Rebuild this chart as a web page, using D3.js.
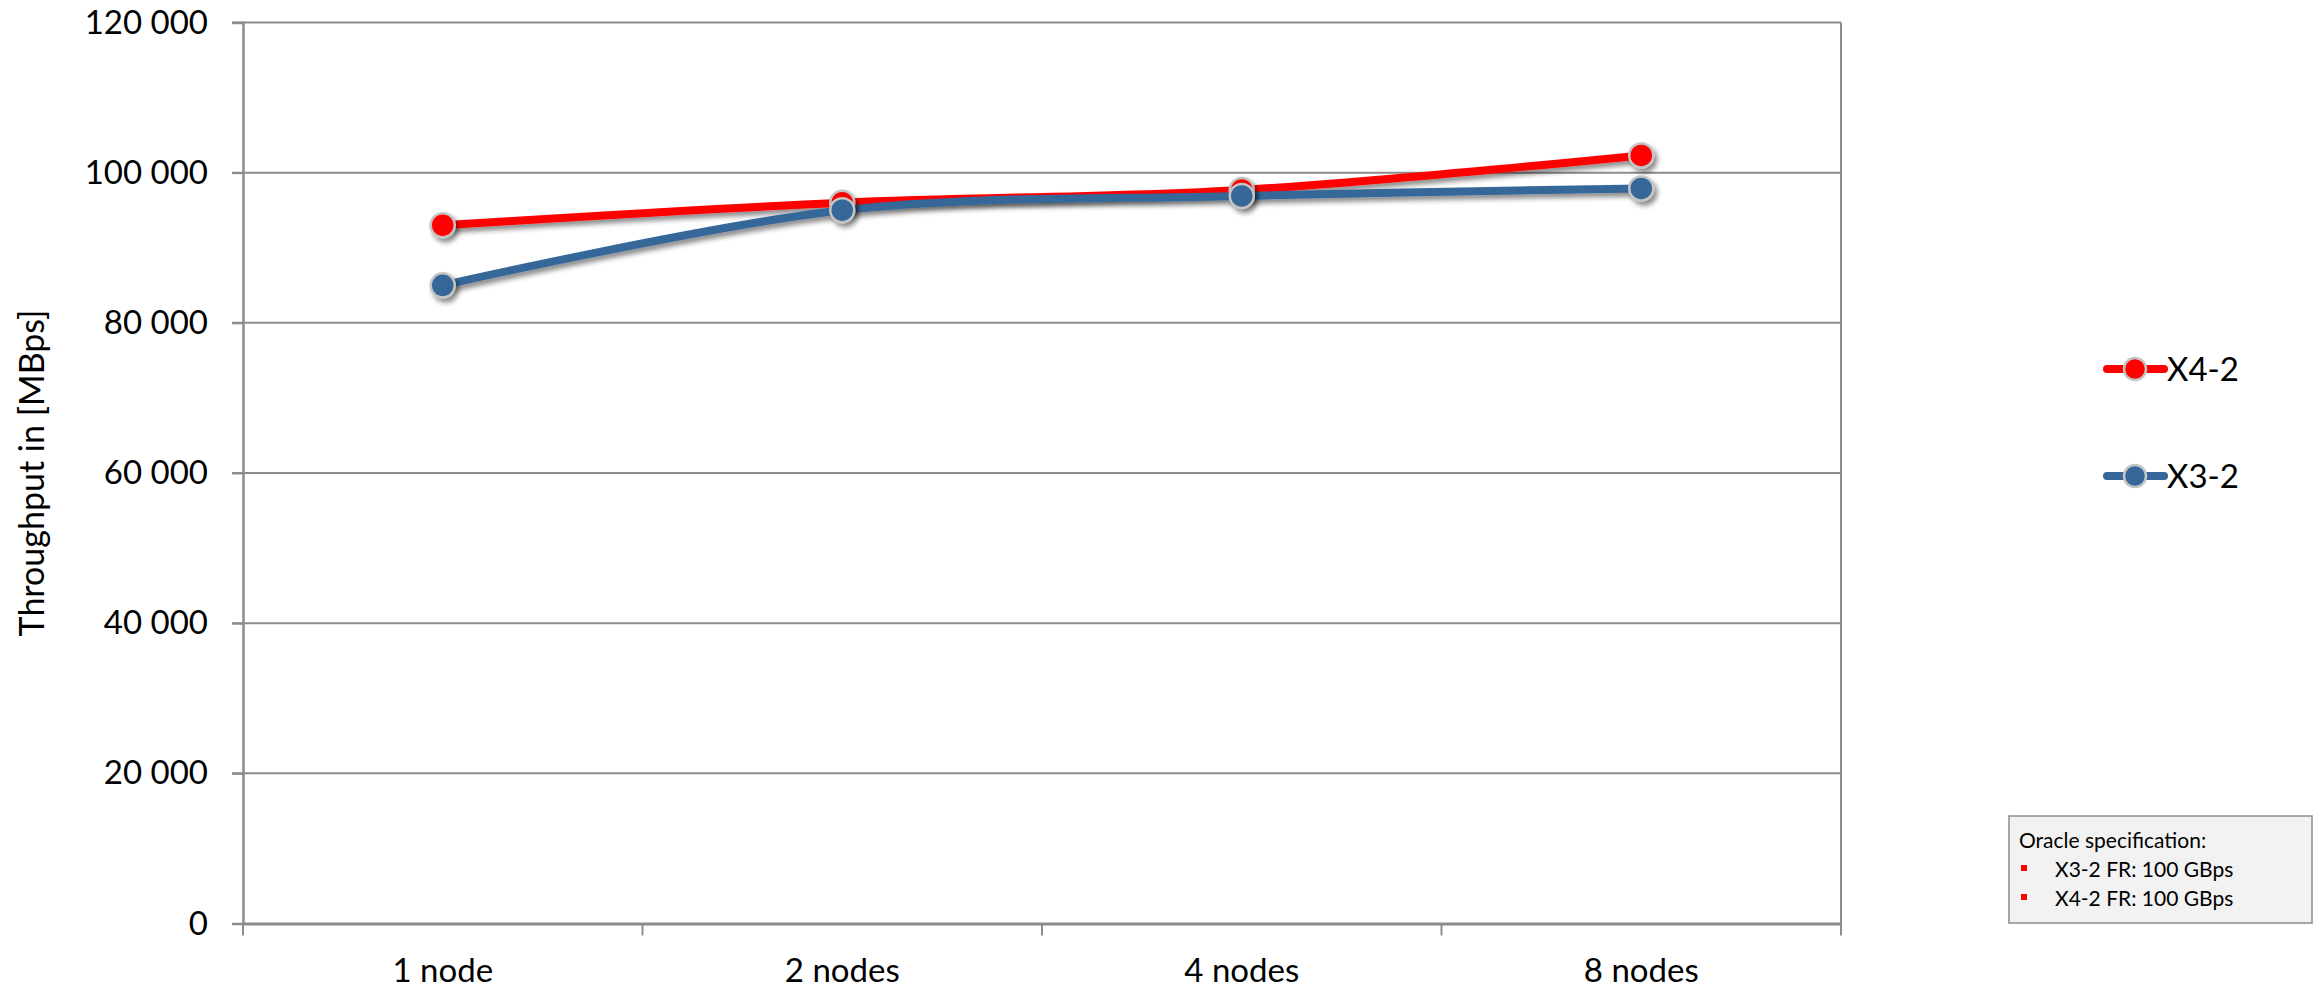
<!DOCTYPE html>
<html>
<head>
<meta charset="utf-8">
<script src="https://cdn.jsdelivr.net/npm/d3@7"></script>
<style>
  html, body { margin: 0; padding: 0; background: #fff; }
  svg { display: block; font-family: Lato, "Open Sans", sans-serif; }
</style>
</head>
<body>
<svg id="chart" width="2322" height="990"></svg>
<script>
// Throughput per cluster size
const categories = ["1 node", "2 nodes", "4 nodes", "8 nodes"];
const seriesNames = ["X4-2", "X3-2"];
const x42Values = [93000, 96000, 97700, 102300];
const x32Values = [85000, 95000, 96900, 97900];
const yTicks = [0, 20000, 40000, 60000, 80000, 100000, 120000];
const specTitle = "Oracle specification:";
const specItems = ["X3-2 FR: 100 GBps", "X4-2 FR: 100 GBps"];

const seriesColors = { "X4-2": "#ff0000", "X3-2": "#356799" };
const series = [
  { name: seriesNames[0], values: x42Values },
  { name: seriesNames[1], values: x32Values }
];

const svg = d3.select("#chart");
const margin = { left: 243, right: 2322 - 1841, top: 22.5, bottom: 990 - 923.5 };
const W = 2322, H = 990;

const x = d3.scaleBand().domain(categories).range([margin.left, W - margin.right]);
const y = d3.scaleLinear().domain([0, 120000]).range([H - margin.bottom, margin.top]);

const fmt = v => d3.format(",")(v).replace(/,/g, " ");

// drop shadow for series
const defs = svg.append("defs");
const f = defs.append("filter").attr("id", "shadow")
  .attr("x", "-10%").attr("y", "-30%").attr("width", "120%").attr("height", "160%");
f.append("feDropShadow").attr("dx", 3).attr("dy", 4).attr("stdDeviation", 2.5)
  .attr("flood-color", "#000").attr("flood-opacity", 0.45);

// gridlines
svg.append("g")
  .selectAll("line").data(yTicks.filter(d => d > 0)).join("line")
  .attr("x1", margin.left - 11).attr("x2", W - margin.right)
  .attr("y1", d => y(d)).attr("y2", d => y(d))
  .attr("stroke", "#8c8c8c").attr("stroke-width", 2);

// y axis
const yAxis = svg.append("g").attr("transform", `translate(${margin.left},0)`)
  .call(d3.axisLeft(y).tickValues(yTicks).tickFormat(fmt).tickSize(11).tickPadding(24));
yAxis.select(".domain").attr("stroke", "#8c8c8c").attr("stroke-width", 2.5);
yAxis.selectAll(".tick line").attr("stroke", "#8c8c8c").attr("stroke-width", 2);
yAxis.selectAll(".tick text").attr("font-size", 33).attr("fill", "#000")
  .attr("font-family", "Lato, sans-serif");

// right border of plot area
svg.append("line")
  .attr("x1", W - margin.right).attr("x2", W - margin.right)
  .attr("y1", margin.top).attr("y2", y(0))
  .attr("stroke", "#8c8c8c").attr("stroke-width", 2);

// x axis
const xAxis = svg.append("g").attr("transform", `translate(0,${y(0)})`)
  .call(d3.axisBottom(x).tickSize(0).tickPadding(35));
xAxis.select(".domain").attr("stroke", "#8c8c8c").attr("stroke-width", 3);
xAxis.selectAll(".tick text").attr("font-size", 33).attr("fill", "#000")
  .attr("font-family", "Lato, sans-serif");
// category boundary ticks
const bounds = categories.map(c => x(c)).concat([x(categories[categories.length - 1]) + x.bandwidth()]);
svg.append("g").selectAll("line").data(bounds).join("line")
  .attr("x1", d => d).attr("x2", d => d)
  .attr("y1", y(0)).attr("y2", y(0) + 12)
  .attr("stroke", "#8c8c8c").attr("stroke-width", 2);

// y axis title
svg.append("text")
  .attr("transform", `translate(44,${(y(0) + y(120000)) / 2}) rotate(-90)`)
  .attr("text-anchor", "middle")
  .attr("font-size", 34)
  .attr("fill", "#000")
  .text("Throughput in [MBps]");

// series lines and markers, X4-2 first so X3-2 sits on top
const cx = c => x(c) + x.bandwidth() / 2;
const line = d3.line()
  .x((d, i) => cx(categories[i]))
  .y(d => y(d))
  .curve(d3.curveCatmullRom.alpha(0));

const sg = svg.append("g").selectAll("g").data(series).join("g")
  .attr("filter", "url(#shadow)");
sg.append("path")
  .attr("d", d => line(d.values))
  .attr("fill", "none")
  .attr("stroke", d => seriesColors[d.name])
  .attr("stroke-width", 8)
  .attr("stroke-linecap", "round");

const mg = svg.append("g").selectAll("g").data(series).join("g")
  .attr("filter", "url(#shadow)");
mg.selectAll("circle").data(d => d.values.map((v, i) => ({ v, i, name: d.name }))).join("circle")
  .attr("cx", d => cx(categories[d.i]))
  .attr("cy", d => y(d.v))
  .attr("r", 12)
  .attr("fill", d => seriesColors[d.name])
  .attr("stroke", "#c4c4c4")
  .attr("stroke-width", 2.5);

// legend
const legendY = [369, 476];
const lg = svg.append("g").selectAll("g").data(series).join("g")
  .attr("transform", (d, i) => `translate(0,${legendY[i]})`);
lg.append("line")
  .attr("x1", 2107).attr("x2", 2164).attr("y1", 0).attr("y2", 0)
  .attr("stroke", d => seriesColors[d.name]).attr("stroke-width", 8)
  .attr("stroke-linecap", "round");
lg.append("circle")
  .attr("cx", 2135).attr("cy", 0).attr("r", 11)
  .attr("fill", d => seriesColors[d.name])
  .attr("stroke", "#c4c4c4").attr("stroke-width", 2.5);
lg.append("text")
  .attr("x", 2167).attr("y", 12)
  .attr("font-size", 33).attr("fill", "#000")
  .text(d => d.name);

// specification box
const box = svg.append("g");
box.append("rect")
  .attr("x", 2009).attr("y", 816).attr("width", 303).attr("height", 107)
  .attr("fill", "#f2f2f2").attr("stroke", "#8c8c8c").attr("stroke-width", 1.5);
box.append("text")
  .attr("x", 2019).attr("y", 848)
  .attr("font-size", 21).attr("fill", "#000")
  .text(specTitle);
const items = box.selectAll("g.item").data(specItems).join("g")
  .attr("class", "item")
  .attr("transform", (d, i) => `translate(0,${877 + i * 29})`);
items.append("rect")
  .attr("x", 2021).attr("y", -12).attr("width", 6).attr("height", 6)
  .attr("fill", "#ff0000");
items.append("text")
  .attr("x", 2055).attr("y", 0)
  .attr("font-size", 21).attr("fill", "#000")
  .text(d => d);
</script>
</body>
</html>
